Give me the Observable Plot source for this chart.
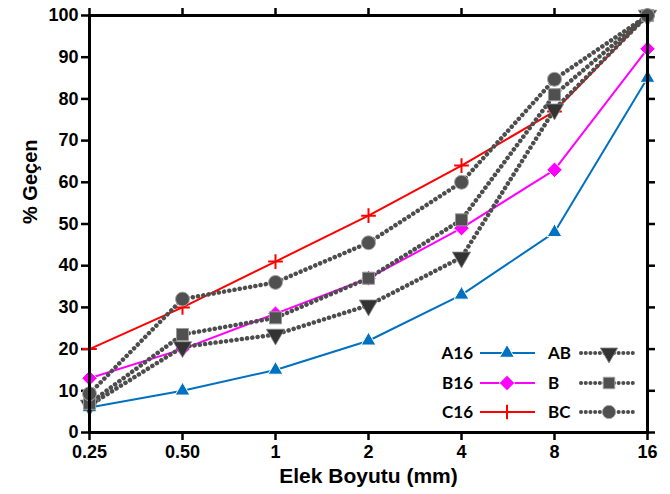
<!DOCTYPE html>
<html>
<head>
<meta charset="utf-8">
<script src="https://cdn.jsdelivr.net/npm/d3@7"></script>
<script src="https://cdn.jsdelivr.net/npm/@observablehq/plot@0.6"></script>
<style>
  body { margin: 0; background: #fff; }
  #chart { position: relative; width: 670px; height: 494px; }
  #chart svg { position: absolute; left: 0; top: 0; }
</style>
</head>
<body>
<div id="chart"></div>
<script>
// Sieve sizes (mm) and their tick labels
const sizes = [0.25, 0.5, 1, 2, 4, 8, 16];
const sizeLabels = ["0.25", "0.50", "1", "2", "4", "8", "16"];
const percentTicks = [0, 10, 20, 30, 40, 50, 60, 70, 80, 90, 100];

// Percent passing for each mix
const a16 = [6, 10, 15, 22, 33, 48, 85];
const b16 = [13, 20, 28.5, 37, 49, 63, 92];
const c16 = [20, 30, 41, 52, 64, 77, 100];
const ab = [6.5, 20.5, 23.5, 30.5, 42, 77.5, 100];
const b = [7, 23.5, 27.5, 37, 51, 81, 100];
const bc = [9.3, 32, 36, 45.5, 60, 84.7, 100];

const rowsOf = (name, vals) => sizes.map((s, i) => ({series: name, size: s, value: vals[i]}));

// Downward-pointing triangle symbol
const triangleDown = {
  draw(ctx, size) {
    const a = Math.sqrt(size / (Math.sqrt(3) / 4));
    const h = a * Math.sqrt(3) / 2;
    ctx.moveTo(0, 2 * h / 3);
    ctx.lineTo(-a / 2, -h / 3);
    ctx.lineTo(a / 2, -h / 3);
    ctx.closePath();
  }
};

const solidSeries = [
  {name: "A16", vals: a16, color: "#0070c0", symbol: "triangle", r: 5.5, fill: "#0070c0", stroke: "white", sw: 1},
  {name: "B16", vals: b16, color: "#ff00ff", symbol: "diamond2", r: 7, fill: "#ff00ff", stroke: "white", sw: 1},
  {name: "C16", vals: c16, color: "#ff0000", symbol: "plus", r: 4.8, fill: "none", stroke: "#ff0000", sw: 2}
];
const dottedSeries = [
  {name: "AB", vals: ab, symbol: triangleDown, r: 6.8, fill: "#333333", stroke: "#888", sw: 0.8},
  {name: "B", vals: b, symbol: "square", r: 6.8, fill: "#505050", stroke: "#9a9a9a", sw: 1},
  {name: "BC", vals: bc, symbol: "circle", r: 7, fill: "#505050", stroke: "#aaaaaa", sw: 1}
];
const dotGray = "#4d4d4d";

const marks = [];
for (const s of solidSeries) {
  const rows = rowsOf(s.name, s.vals);
  marks.push(Plot.line(rows, {x: "size", y: "value", stroke: s.color, strokeWidth: 2}));
}
for (const s of solidSeries) {
  const rows = rowsOf(s.name, s.vals);
  marks.push(Plot.dot(rows, {x: "size", y: "value", symbol: () => s.symbol, r: s.r, fill: s.fill, stroke: s.stroke, strokeWidth: s.sw}));
}
for (const s of dottedSeries) {
  const rows = rowsOf(s.name, s.vals);
  marks.push(Plot.line(rows, {x: "size", y: "value", stroke: dotGray, strokeWidth: 4.5, strokeDasharray: "0.1 5.2", strokeLinecap: "round"}));
}
for (const s of dottedSeries) {
  const rows = rowsOf(s.name, s.vals);
  marks.push(Plot.dot(rows, {x: "size", y: "value", symbol: () => s.symbol, r: s.r, fill: s.fill, stroke: s.stroke, strokeWidth: s.sw}));
}

const axisFont = {fontSize: 18, fontWeight: "bold"};
const chart = Plot.plot({
  width: 670,
  height: 494,
  marginLeft: 89,
  marginRight: 23,
  marginTop: 15,
  marginBottom: 62,
  x: {type: "log", base: 2, domain: [0.25, 16]},
  y: {domain: [0, 100]},
  symbol: {type: "identity"},
  style: {fontFamily: "'Liberation Sans', Arial, sans-serif", color: "#000", background: "#fff", overflow: "visible"},
  marks: [
    Plot.axisX(sizes, {anchor: "bottom", tickSize: 8, tickPadding: 5, strokeWidth: 2.5, tickFormat: d => sizeLabels[sizes.indexOf(d)], label: null, ...axisFont}),
    Plot.axisX(sizes, {anchor: "top", tickSize: 8, strokeWidth: 2.5, tickFormat: () => "", label: null}),
    Plot.axisY(percentTicks, {anchor: "left", tickSize: 8, tickPadding: 3, strokeWidth: 2.5, label: null, ...axisFont}),
    Plot.axisY(percentTicks, {anchor: "right", tickSize: 7, strokeWidth: 2.5, tickFormat: () => "", label: null}),
    ...marks,
    Plot.frame({stroke: "#000", strokeWidth: 3}),
    Plot.text(["% Geçen"], {text: d => d, frameAnchor: "left", dx: -59, rotate: -90, fontSize: 20, fontWeight: "bold"}),
    Plot.text(["Elek Boyutu (mm)"], {text: d => d, frameAnchor: "bottom", dy: 50, fontSize: 21, fontWeight: "bold"})
  ]
});
document.getElementById("chart").appendChild(chart);

// Legend in the lower-right corner of the frame
const legend = d3.select("#chart").append("svg")
  .attr("width", 670).attr("height", 494)
  .style("pointer-events", "none")
  .style("font-family", "Lato, 'Open Sans', sans-serif")
  .style("font-weight", "bold")
  .style("font-size", "17px");
const rowY = [353, 383, 412];
const symbolPath = (sym, r) => {
  const map = {triangle: d3.symbolTriangle, diamond2: d3.symbolDiamond2, plus: d3.symbolPlus, square: d3.symbolSquare, circle: d3.symbolCircle};
  const type = typeof sym === "string" ? map[sym] : sym;
  return d3.symbol(type, Math.PI * r * r)();
};
solidSeries.forEach((s, i) => {
  const g = legend.append("g").attr("transform", `translate(0,${rowY[i]})`);
  g.append("text").attr("x", 473).attr("y", 0).attr("dy", "0.35em").attr("text-anchor", "end").text(s.name);
  g.append("line").attr("x1", 480).attr("x2", 535).attr("stroke", s.color).attr("stroke-width", 2);
  g.append("path").attr("transform", "translate(507,0)").attr("d", symbolPath(s.symbol, s.r))
    .attr("fill", s.fill).attr("stroke", s.stroke).attr("stroke-width", s.sw);
});
dottedSeries.forEach((s, i) => {
  const g = legend.append("g").attr("transform", `translate(0,${rowY[i]})`);
  g.append("text").attr("x", 548).attr("y", 0).attr("dy", "0.35em").text(s.name);
  g.append("line").attr("x1", 581).attr("x2", 635).attr("stroke", dotGray).attr("stroke-width", 4)
    .attr("stroke-dasharray", "0.1 4.6").attr("stroke-linecap", "round");
  g.append("path").attr("transform", "translate(609,0)").attr("d", symbolPath(s.symbol, s.r * 0.95))
    .attr("fill", s.fill).attr("stroke", s.stroke).attr("stroke-width", s.sw);
});
</script>
</body>
</html>
